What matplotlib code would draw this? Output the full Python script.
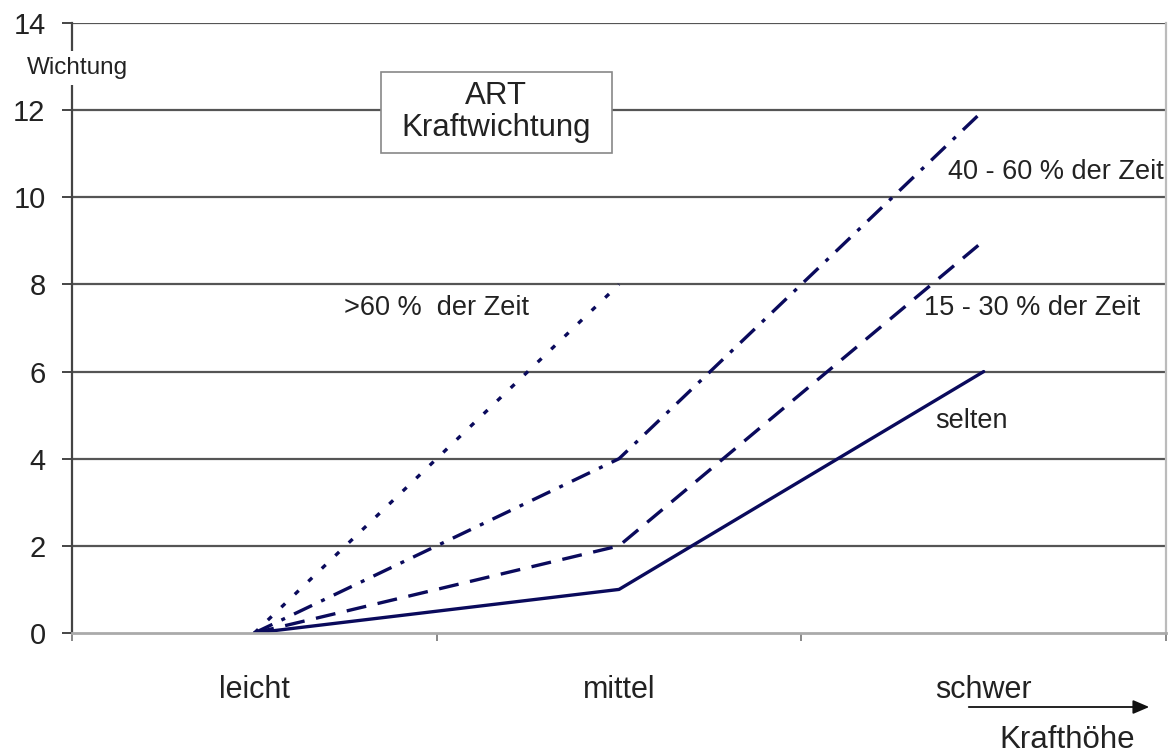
import matplotlib
matplotlib.use("Agg")
import matplotlib.pyplot as plt
from matplotlib.patches import FancyArrowPatch, Rectangle

plt.rcParams['font.family'] = ['Liberation Sans', 'DejaVu Sans']

categories = ["leicht", "mittel", "schwer"]
selten = [0, 1, 6]
zeit_15_30 = [0, 2, 9]
zeit_40_60 = [0, 4, 12]
zeit_60 = [0, 8]
y_ticks = [0, 2, 4, 6, 8, 10, 12, 14]

NAVY = "#0a0a5c"
TXT = "#222222"

W, H = 1176, 756
fig = plt.figure(figsize=(W / 100, H / 100), dpi=100)
ax = fig.add_axes([72 / W, 1 - 633 / H, (1166 - 72) / W, (633 - 23) / H])

x = list(range(len(categories)))
lw = 2.4
ax.plot(x, selten, color=NAVY, lw=lw, solid_capstyle="round")
ax.plot(x, zeit_15_30, color=NAVY, lw=lw, dashes=(6, 3.5))
ax.plot(x, zeit_40_60, color=NAVY, lw=lw, dashes=(6, 3, 1.2, 3))
ax.plot(x[:len(zeit_60)], zeit_60, color=NAVY, lw=lw, dashes=(1.6, 4))

ax.set_xlim(-0.5, 2.5)
ax.set_ylim(0, 14)

# horizontal grid
for v in y_ticks[1:]:
    ax.axhline(v, color="#555555", lw=1.6, zorder=0)

ax.spines["top"].set_visible(False)
ax.spines["left"].set_color("#444444")
ax.spines["left"].set_linewidth(1.6)
ax.spines["bottom"].set_color("#aaaaaa")
ax.spines["bottom"].set_linewidth(2)
ax.spines["right"].set_color("#bbbbbb")
ax.spines["right"].set_linewidth(1.6)

ax.set_yticks(y_ticks)
ax.set_yticklabels([str(v) for v in y_ticks], fontsize=21, color=TXT)
ax.tick_params(axis="y", direction="out", length=7, width=1.4, color="#444444", pad=12)

ax.set_xticks(x)
ax.set_xticklabels(categories, fontsize=22, color=TXT)
ax.tick_params(axis="x", which="major", length=0, pad=30)
ax.set_xticks([-0.5, 0.5, 1.5, 2.5], minor=True)
ax.tick_params(axis="x", which="minor", direction="out", length=6, width=1.4, color="#888888")

# series labels
ax.text(0.5, 7.46, ">60 %  der Zeit", fontsize=19.5, color=TXT, ha="center", va="center")
ax.text(1.902, 10.58, "40 - 60 % der Zeit", fontsize=19.5, color=TXT, ha="left", va="center")
ax.text(1.836, 7.46, "15 - 30 % der Zeit", fontsize=19.5, color=TXT, ha="left", va="center")
ax.text(1.867, 4.87, "selten", fontsize=19.5, color=TXT, ha="left", va="center")

# chart title box
fig.add_artist(Rectangle((381 / W, 1 - 153 / H), (612 - 381) / W, (153 - 72) / H,
                         transform=fig.transFigure, fc="white", ec="#888888", lw=1.2, zorder=3))
fig.text(496 / W, 1 - 112 / H, "ART\nKraftwichtung", fontsize=22.5, color=TXT,
         ha="center", va="center", linespacing=1.1, zorder=4)

# axis captions
fig.text(77 / W, 1 - 68 / H, "Wichtung", fontsize=17.5, color=TXT, ha="center", va="center",
         bbox=dict(boxstyle="square,pad=0.25", fc="white", ec="none"))
fig.text(1067 / W, 1 - 740 / H, "Krafthöhe", fontsize=22.5, color=TXT, ha="center", va="center")
arrow = FancyArrowPatch((966 / W, 1 - 707 / H), (1152 / W, 1 - 707 / H),
                        transform=fig.transFigure, arrowstyle="-|>,head_length=0.7,head_width=0.3",
                        color="#111111", lw=1.3, mutation_scale=14)
fig.patches.append(arrow)

fig.savefig("out.png", dpi=100, facecolor="white")
